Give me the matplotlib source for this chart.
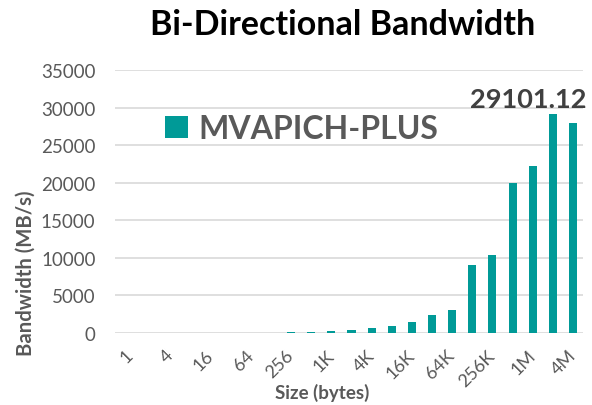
import numpy as np
import matplotlib.pyplot as plt

plt.rcParams['font.family'] = ['Lato', 'DejaVu Sans']

sizes = ['1', '2', '4', '8', '16', '32', '64', '128', '256', '512',
         '1K', '2K', '4K', '8K', '16K', '32K', '64K', '128K', '256K', '512K',
         '1M', '2M', '4M']
bandwidth = [0.6, 1.2, 2.4, 4.8, 9.5, 19, 38, 45, 90, 150,
             230, 380, 660, 979, 1423, 2447, 3025, 9066, 10400, 19950,
             22180, 29101.12, 27980]
tick_labels = ['1', '4', '16', '64', '256', '1K', '4K', '16K', '64K', '256K', '1M', '4M']

teal = '#009a97'
grey = '#595959'

fig = plt.figure(figsize=(5.92, 4.06), dpi=100)
ax = fig.add_axes([115 / 592, 1 - 334 / 406, (583 - 115) / 592, (334 - 71) / 406])

x = np.arange(len(sizes))
ax.bar(x, bandwidth, width=0.4, color=teal, label='MVAPICH-PLUS', zorder=3)

ax.set_ylim(0, 35000)
ax.set_xlim(-0.75, 22.5)
ax.set_yticks(np.arange(0, 35001, 5000))
ax.yaxis.grid(True, color='#d9d9d9', linewidth=1.2, zorder=0)
for s in ax.spines.values():
    s.set_visible(False)
ax.tick_params(length=0)
ax.tick_params(axis='y', labelsize=13.5, labelcolor=grey, pad=14)
ax.set_xticks(x[::2])
ax.set_xticklabels(tick_labels, rotation=45, ha='right', va='center',
                   rotation_mode='anchor', fontsize=13, color=grey)
ax.tick_params(axis='x', pad=14)

# data label for the peak
peak = int(np.argmax(bandwidth))
ax.annotate(f'{bandwidth[peak]:.2f}', (x[peak], bandwidth[peak]), xytext=(-18, 5),
            textcoords='offset points', ha='center', va='baseline',
            fontsize=19.5, fontweight='bold', color='#404040')

ax.set_ylabel('Bandwidth (MB/s)', fontsize=14.6, fontweight='bold', color=grey)
ax.yaxis.set_label_coords(-0.169, 0.232)
ax.set_xlabel('Size (bytes)', fontsize=13.5, fontweight='bold', color=grey)
ax.xaxis.set_label_coords(0.442, -0.19)
fig.suptitle('Bi-Directional Bandwidth', x=0.578, y=0.978, va='top',
             fontsize=24.5, fontweight='bold')

leg = ax.legend(loc='upper left', bbox_to_anchor=(0.08, 0.88), frameon=False,
                prop={'size': 23, 'weight': 'bold'}, handlelength=0.7, handleheight=0.7,
                handletextpad=0.35, borderaxespad=0)
for t in leg.get_texts():
    t.set_color(grey)

fig.savefig('out.png', dpi=100)
